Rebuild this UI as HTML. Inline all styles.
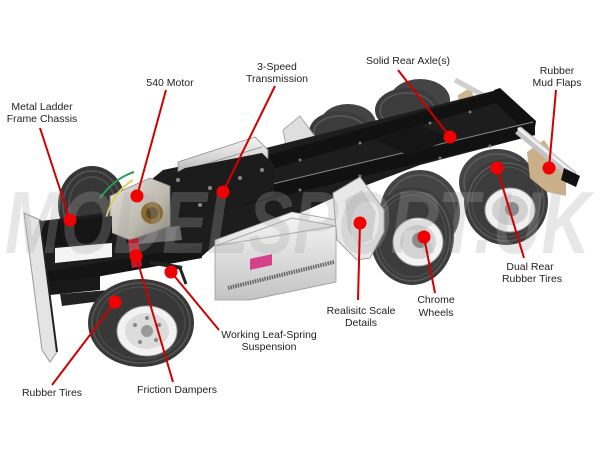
<!DOCTYPE html>
<html><head><meta charset="utf-8"><style>
html,body{margin:0;padding:0;background:#fff;}
svg{display:block;}
text{font-family:"Liberation Sans",Arial,sans-serif;font-size:10.5px;fill:#222;}
</style></head><body>
<svg width="600" height="450" viewBox="0 0 600 450" xmlns="http://www.w3.org/2000/svg">
<defs>
<linearGradient id="sil" x1="0" y1="0" x2="0" y2="1"><stop offset="0" stop-color="#f4f4f4"/><stop offset="0.5" stop-color="#d2d2d2"/><stop offset="1" stop-color="#9a9a9a"/></linearGradient>
<linearGradient id="sil2" x1="0" y1="0" x2="1" y2="1"><stop offset="0" stop-color="#e6e4e0"/><stop offset="0.6" stop-color="#bdb8ad"/><stop offset="1" stop-color="#8a857a"/></linearGradient>
<linearGradient id="tank" x1="0" y1="0" x2="0" y2="1"><stop offset="0" stop-color="#f6f6f6"/><stop offset="1" stop-color="#c4c4c4"/></linearGradient>
</defs>
<rect width="600" height="450" fill="#fff"/>

<!-- far rear tires -->
<ellipse cx="420" cy="100" rx="30" ry="21" fill="#444"/>
<ellipse cx="407" cy="110" rx="32" ry="22" fill="#3c3c3c"/>
<ellipse cx="407" cy="110" rx="27" ry="17" fill="none" stroke="#5a5a5a" stroke-width="1.5"/>
<ellipse cx="348" cy="124" rx="28" ry="20" fill="#444"/>
<ellipse cx="340" cy="132" rx="31" ry="21" fill="#3c3c3c"/>
<ellipse cx="340" cy="132" rx="26" ry="16" fill="none" stroke="#5a5a5a" stroke-width="1.5"/>
<!-- far chrome bits -->
<polygon points="283,130 300,116 316,138 313,160 290,166" fill="#dedede" stroke="#aaa" stroke-width="1"/>
<polygon points="458,95 470,88 485,120 479,140 462,135" fill="#cdb590"/>
<line x1="455" y1="80" x2="492" y2="100" stroke="#cfcfcf" stroke-width="5"/>

<!-- far front tire -->
<ellipse cx="92" cy="205" rx="34" ry="39" fill="#363636"/>
<ellipse cx="92" cy="205" rx="29" ry="34" fill="none" stroke="#555" stroke-width="1.5"/>
<ellipse cx="92" cy="205" rx="23" ry="28" fill="none" stroke="#505050" stroke-width="1.5"/>

<!-- big dark chassis fill -->
<polygon points="33,222 112,212 163,170 258,150 497,90 535,122 535,135 420,165 340,195 300,213 250,232 215,245 200,258 120,270 50,292 35,287" fill="#1d1d1d"/>
<polygon points="55,248 112,243 112,257 55,263" fill="#f4f4f4"/>
<polygon points="135,230 180,226 182,240 138,244" fill="#6a6a6a"/>

<!-- near rear tires -->
<ellipse cx="420" cy="212" rx="40" ry="42" fill="#444"/>
<ellipse cx="420" cy="212" rx="35" ry="37" fill="none" stroke="#5c5c5c" stroke-width="1.5"/>
<ellipse cx="412" cy="236" rx="42" ry="49" fill="#3c3c3c"/>
<ellipse cx="412" cy="236" rx="38" ry="45" fill="none" stroke="#5a5a5a" stroke-width="1.5"/>
<ellipse cx="412" cy="236" rx="34" ry="41" fill="none" stroke="#535353" stroke-width="1"/>
<ellipse cx="418" cy="242" rx="25" ry="24" fill="#f3f3f3" stroke="#9a9a9a"/>
<ellipse cx="418" cy="242" rx="18" ry="17" fill="#d4d4d4"/>
<ellipse cx="420" cy="240" rx="8" ry="8" fill="#8a8a8a"/>

<ellipse cx="497" cy="182" rx="38" ry="33" fill="#444"/>
<ellipse cx="497" cy="182" rx="33" ry="28" fill="none" stroke="#5c5c5c" stroke-width="1.5"/>
<ellipse cx="506" cy="202" rx="42" ry="43" fill="#3c3c3c"/>
<ellipse cx="506" cy="202" rx="38" ry="39" fill="none" stroke="#5a5a5a" stroke-width="1.5"/>
<ellipse cx="506" cy="202" rx="34" ry="35" fill="none" stroke="#535353" stroke-width="1"/>
<ellipse cx="510" cy="210" rx="25" ry="22" fill="#f1f1f1" stroke="#9a9a9a"/>
<ellipse cx="510" cy="210" rx="18" ry="15" fill="#d2d2d2"/>
<ellipse cx="512" cy="209" rx="7" ry="7" fill="#8a8a8a"/>

<!-- rails -->
<polygon points="258,158 497,91 500,102 262,172" fill="#111"/>
<polygon points="494,90 500,88 536,121 534,134 528,134 496,103" fill="#111"/>
<polygon points="205,200 533,122 535,135 208,214" fill="#111"/>
<line x1="205" y1="200" x2="533" y2="122" stroke="#8a8a8a" stroke-width="1"/>
<polygon points="375,140 420,126 452,138 410,156" fill="#151515"/>
<g fill="#777">
<circle cx="300" cy="160" r="1.5"/><circle cx="360" cy="143" r="1.5"/><circle cx="430" cy="123" r="1.5"/><circle cx="470" cy="112" r="1.5"/>
<circle cx="300" cy="190" r="1.5"/><circle cx="360" cy="176" r="1.5"/><circle cx="440" cy="158" r="1.5"/><circle cx="490" cy="146" r="1.5"/>
</g>

<!-- mud flap near + rear bumper -->
<polygon points="527,152 544,140 566,172 566,196 547,192 530,178" fill="#c9b08a"/>
<line x1="518" y1="130" x2="574" y2="176" stroke="#c4c4c4" stroke-width="9"/>
<line x1="518" y1="128" x2="574" y2="174" stroke="#f0f0f0" stroke-width="3"/>
<polygon points="564,168 580,176 576,187 561,180" fill="#111"/>

<!-- transmission -->
<polygon points="178,162 255,137 268,150 268,166 190,183 178,177" fill="url(#sil)" stroke="#888" stroke-width="0.8"/>
<line x1="185" y1="170" x2="262" y2="147" stroke="#999" stroke-width="1"/>
<polygon points="163,180 185,168 262,153 274,165 274,196 215,213 168,226 160,215" fill="#1b1b1b"/>
<g fill="#888"><circle cx="178" cy="180" r="2"/><circle cx="210" cy="188" r="2"/><circle cx="240" cy="178" r="2"/><circle cx="262" cy="170" r="2"/><circle cx="200" cy="205" r="2"/></g>

<!-- motor -->
<polygon points="110,196 150,178 170,186 170,226 130,240 110,232" fill="url(#sil2)" stroke="#888" stroke-width="0.8"/>
<circle cx="152" cy="213" r="11" fill="#8a6b2f"/>
<circle cx="152" cy="213" r="6" fill="#5b4520"/>
<path d="M100,198 Q115,178 134,172" stroke="#2c9a55" stroke-width="2" fill="none"/>
<path d="M103,233 Q108,195 133,180" stroke="#e0d05a" stroke-width="2" fill="none"/>

<!-- front section -->
<polygon points="33,224 112,216 112,240 35,248" fill="#151515"/>
<polygon points="43,272 200,246 202,258 46,286" fill="#141414"/>
<polygon points="47,282 100,276 100,290 50,295" fill="#181818"/>
<polygon points="60,294 110,290 110,300 62,306" fill="#222"/>
<polygon points="128,240 138,238 142,266 132,268" fill="#b82030"/>
<line x1="150" y1="262" x2="182" y2="268" stroke="#222" stroke-width="4"/>
<line x1="180" y1="268" x2="186" y2="284" stroke="#222" stroke-width="3"/>

<!-- fuel tank -->
<polygon points="215,240 292,212 336,220 336,282 250,300 215,300" fill="url(#tank)" stroke="#999" stroke-width="0.8"/>
<polygon points="215,246 292,218 336,226" fill="none" stroke="#aaa" stroke-width="1"/>
<line x1="228" y1="288" x2="334" y2="262" stroke="#666" stroke-width="4" stroke-dasharray="1.5 1"/>
<rect x="250" y="257" width="22" height="11" fill="#d4408a" transform="skewY(-12) translate(0,55)"/>

<!-- chrome panel -->
<polygon points="333,193 360,177 384,210 384,232 370,258 357,260 337,240" fill="#e8e8e8" stroke="#a0a0a0" stroke-width="1"/>
<polygon points="345,200 362,190 376,212 372,240 358,245 348,230" fill="#cfcfcf"/>

<!-- near front tire -->
<ellipse cx="141" cy="323" rx="53" ry="44" fill="#383838"/>
<ellipse cx="141" cy="323" rx="49" ry="40" fill="none" stroke="#575757" stroke-width="1.5"/>
<ellipse cx="141" cy="323" rx="44" ry="36" fill="none" stroke="#505050" stroke-width="1"/>
<ellipse cx="147" cy="331" rx="30" ry="25" fill="#f2f2f2" stroke="#9a9a9a"/>
<ellipse cx="147" cy="331" rx="22" ry="18" fill="#dcdcdc"/>
<g fill="#888"><circle cx="135" cy="325" r="2"/><circle cx="159" cy="325" r="2"/><circle cx="140" cy="342" r="2"/><circle cx="156" cy="340" r="2"/><circle cx="147" cy="318" r="2"/></g>
<circle cx="147" cy="331" r="6" fill="#999"/>

<!-- front bumper plate -->
<polygon points="24,213 40,220 57,352 50,362 42,350 27,235" fill="#e4e4e4" stroke="#9a9a9a" stroke-width="1"/>
<line x1="40" y1="220" x2="57" y2="352" stroke="#222" stroke-width="2"/>

<!-- watermark -->
<text x="5" y="253" textLength="585" lengthAdjust="spacingAndGlyphs" style="font-size:88px;font-weight:bold;font-style:italic;fill:#aaa;opacity:0.28">MODELSPORT.UK</text>

<!-- callout lines -->
<g stroke="#d00000" stroke-width="2" fill="none">
<line x1="40" y1="128" x2="70" y2="220"/>
<line x1="166" y1="90" x2="137" y2="196"/>
<line x1="275" y1="86" x2="223" y2="192"/>
<line x1="398" y1="70" x2="450" y2="137"/>
<line x1="556" y1="90" x2="549" y2="168"/>
<line x1="497" y1="168" x2="524" y2="258"/>
<line x1="424" y1="237" x2="435" y2="293"/>
<line x1="360" y1="223" x2="358" y2="300"/>
<line x1="171" y1="272" x2="219" y2="330"/>
<line x1="136" y1="256" x2="173" y2="382"/>
<line x1="115" y1="302" x2="52" y2="385"/>
</g>
<g fill="#f00000">
<circle cx="70" cy="220" r="6.5"/>
<circle cx="137" cy="196" r="6.5"/>
<circle cx="223" cy="192" r="6.5"/>
<circle cx="450" cy="137" r="6.5"/>
<circle cx="549" cy="168" r="6.5"/>
<circle cx="497" cy="168" r="6.5"/>
<circle cx="424" cy="237" r="6.5"/>
<circle cx="360" cy="223" r="6.5"/>
<circle cx="171" cy="272" r="6.5"/>
<circle cx="136" cy="256" r="6.5"/>
<circle cx="115" cy="302" r="6.5"/>
</g>

<!-- labels -->
<g text-anchor="middle">
<text x="42" y="110">Metal Ladder</text>
<text x="42" y="122">Frame Chassis</text>
<text x="170" y="86">540 Motor</text>
<text x="277" y="70">3-Speed</text>
<text x="277" y="82">Transmission</text>
<text x="408" y="64">Solid Rear Axle(s)</text>
<text x="557" y="74">Rubber</text>
<text x="557" y="86">Mud Flaps</text>
<text x="530" y="270">Dual Rear</text>
<text x="532" y="282">Rubber Tires</text>
<text x="436" y="303">Chrome</text>
<text x="436" y="316">Wheels</text>
<text x="361" y="314">Realisitc Scale</text>
<text x="361" y="326">Details</text>
<text x="269" y="338">Working Leaf-Spring</text>
<text x="269" y="350">Suspension</text>
<text x="177" y="393">Friction Dampers</text>
<text x="52" y="396">Rubber Tires</text>
</g>
</svg>
</body></html>
